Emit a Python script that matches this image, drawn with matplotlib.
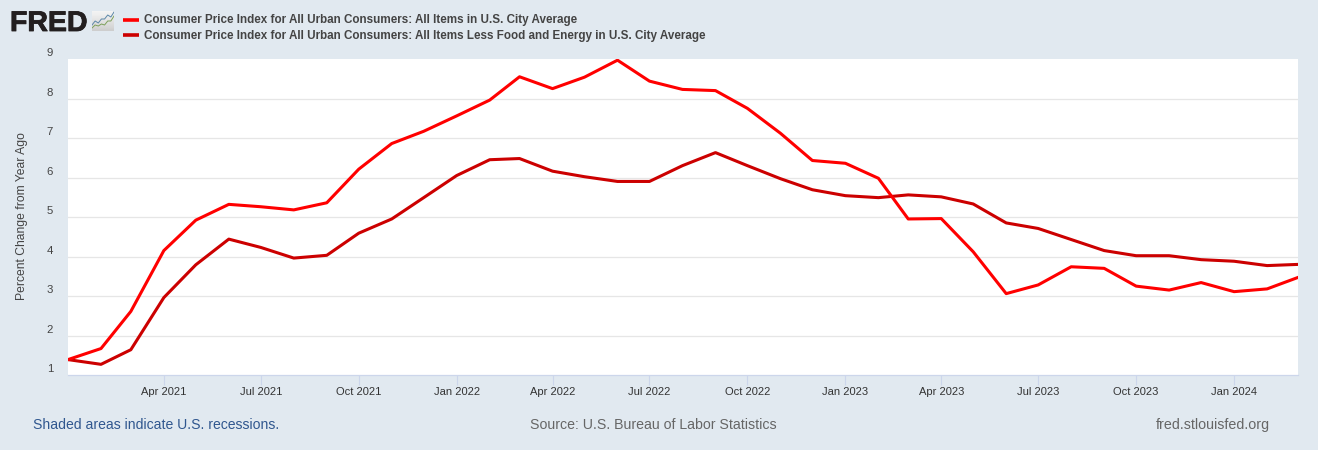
import pandas as pd
import numpy as np
import matplotlib
matplotlib.use('Agg')
import matplotlib.pyplot as plt
import matplotlib.patheffects as pe
from matplotlib.lines import Line2D

months = pd.date_range('2021-01-01', '2024-03-01', freq='MS')

all_items = [1.40, 1.68, 2.62, 4.16, 4.93, 5.33, 5.27, 5.19, 5.37, 6.22, 6.87, 7.18, 7.57,
             7.97, 8.56, 8.26, 8.55, 8.98, 8.45, 8.24, 8.21, 7.76, 7.13, 6.44, 6.37, 5.99,
             4.96, 4.97, 4.13, 3.07, 3.29, 3.75, 3.71, 3.26, 3.16, 3.35, 3.12, 3.19, 3.48]
core = [1.40, 1.28, 1.65, 2.97, 3.80, 4.45, 4.24, 3.97, 4.04, 4.60, 4.96, 5.50, 6.06,
        6.46, 6.49, 6.17, 6.03, 5.91, 5.91, 6.31, 6.64, 6.31, 5.98, 5.70, 5.55, 5.50,
        5.57, 5.52, 5.34, 4.86, 4.72, 4.44, 4.16, 4.03, 4.03, 3.93, 3.89, 3.78, 3.81]

names = ['Consumer Price Index for All Urban Consumers: All Items in U.S. City Average',
         'Consumer Price Index for All Urban Consumers: All Items Less Food and Energy in U.S. City Average']
ylabel = 'Percent Change from Year Ago'
yticks = [1, 2, 3, 4, 5, 6, 7, 8, 9]
gridlines = [2, 3, 4, 5, 6, 7, 8]
xticks = pd.date_range('2021-04-01', '2024-01-01', freq='3MS')

W, H = 1318, 450
BG = '#e1e9f0'
RED = '#ff0000'
DARK = '#cc0000'
TXT = '#444444'

plt.rcParams['font.family'] = ['Liberation Sans', 'DejaVu Sans']

fig = plt.figure(figsize=(W / 100, H / 100), dpi=100, facecolor=BG)
ax = fig.add_axes([68 / W, 1 - 375 / H, 1230 / W, 316 / H])
ax.set_facecolor('white')

ax.plot(months, core, color=DARK, lw=2.2, solid_joinstyle='round', zorder=3)
ax.plot(months, all_items, color=RED, lw=2.2, solid_joinstyle='round', zorder=4)

ax.set_xlim(months[0], months[-1])
ax.set_ylim(1.01, 9.01)
ax.set_yticks(gridlines)
ax.set_yticklabels([])
ax.set_xticks(xticks)
ax.set_xticklabels([d.strftime('%b %Y') for d in xticks], fontsize=8.0, color='#333333')
ax.tick_params(axis='x', length=7.2, width=0.8, color='#ccd6eb', pad=1.5)
ax.tick_params(axis='y', length=0)
ax.grid(axis='y', color='#e6e6e6', lw=0.9)
ax.set_axisbelow(True)
for s in ['top', 'left', 'right']:
    ax.spines[s].set_visible(False)
ax.spines['bottom'].set_color('#ccd6eb')
ax.spines['bottom'].set_linewidth(0.9)

# y labels sit a bit above their gridlines, like on FRED
for v in yticks:
    ax.annotate(str(v), (0, v), xycoords=('axes fraction', 'data'), xytext=(-10.8, 0.8),
                textcoords='offset points', ha='right', va='bottom', annotation_clip=False,
                fontsize=8.2, color=TXT)

fig.text(22.5 / W, 1 - 216.5 / H, ylabel, rotation=90, ha='center', va='center', fontsize=8.75, color=TXT)

# legend
for y, c, name in zip([19.5, 34.7], [RED, DARK], names):
    fig.add_artist(Line2D([123 / W, 139 / W], [1 - y / H, 1 - y / H], color=c, lw=2.6, solid_capstyle='butt'))
    fig.text(144 / W, 1 - (y + 4) / H, name, ha='left', va='baseline', fontsize=8.4, fontweight='bold', color=TXT)

# logo
logo = fig.text(10 / W, 1 - 31 / H, 'FRED', ha='left', va='baseline', fontsize=20.5, fontweight='bold', color='#231f20')
logo.set_path_effects([pe.withStroke(linewidth=0.6, foreground='#231f20')])
icon = fig.add_axes([92 / W, 1 - 31 / H, 22 / W, 20 / H])
grad = np.linspace(0, 1, 20).reshape(-1, 1)
icon.imshow(grad, extent=(0, 7, 0, 10), aspect='auto', cmap='Greys', vmin=-0.5, vmax=4.5)
icon.plot([0, 1, 2, 3, 4, 5, 6, 7], [3, 5, 4, 6, 6, 8, 7, 9.5], color='#5b87a8', lw=0.7)
icon.plot([0, 1, 2, 3, 4, 5, 6, 7], [1.5, 3, 2.5, 3.5, 3, 5, 5, 7.5], color='#7da05a', lw=0.7)
icon.set_xlim(0, 7)
icon.set_ylim(0, 10)
icon.set_xticks([])
icon.set_yticks([])
for s in icon.spines.values():
    s.set_visible(False)

# footer
fig.text(33 / W, 1 - 425 / H, 'Shaded areas indicate U.S. recessions.', ha='left', va='center', fontsize=10.1, color='#30578f')
fig.text(530 / W, 1 - 425 / H, 'Source: U.S. Bureau of Labor Statistics', ha='left', va='center', fontsize=10.2, color='#666666')
fig.text(1270 / W, 1 - 425 / H, 'fred.stlouisfed.org', ha='right', va='center', fontsize=10.3, color='#666666')

fig.savefig('out.png', dpi=100, facecolor=BG)
